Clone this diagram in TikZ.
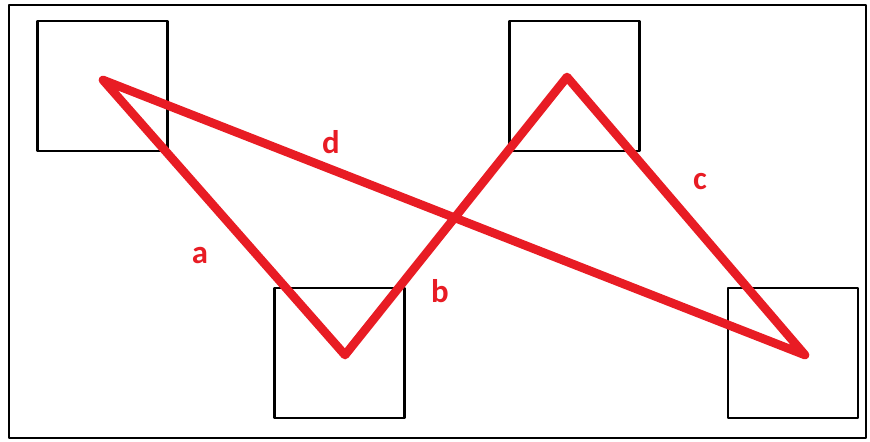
\documentclass[tikz,border=0pt]{standalone}
\usepackage{fontspec}
\setmainfont{Carlito}
\usetikzlibrary{positioning}
\definecolor{linered}{RGB}{232,28,36}

\begin{document}
\begin{tikzpicture}[x=0.03cm, y=-0.03cm, line join=round,
    box/.style={draw, line width=2pt, minimum size=3.9cm, inner sep=0pt},
    route/.style={linered, line width=7.4pt},
    lbl/.style={text=linered, font=\bfseries\fontsize{28}{30}\selectfont}]
        \useasboundingbox (0,0) rectangle (870,441);
        \draw[line width=2.2pt] (9,5) rectangle (866,438);
        \node (s1) [box] at (102.5,86) {};
        \node (s2) [box] at (339.5,353) {};
        \node (s3) [box] at (574.5,86) {};
        \node (s4) [box] at (793,353) {};
        \coordinate (p1) at (103,80);
        \coordinate (p2) at (345,355);
        \coordinate (p3) at (567,77);
        \coordinate (p4) at (805,355);
        \draw[route] (p1) -- (p2) -- (p3) -- (p4) -- cycle;
        \node (a) [lbl] at (200,256) {a};
        \node (b) [lbl] at (440,291) {b};
        \node (c) [lbl] at (700,182) {c};
        \node (d) [lbl] at (331,142) {d};
      \end{tikzpicture}
\end{document}
